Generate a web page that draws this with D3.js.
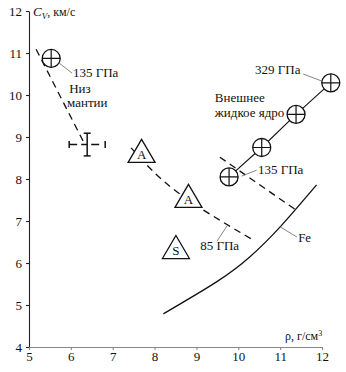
<!DOCTYPE html>
<html>
<head>
<meta charset="utf-8">
<script src="https://cdn.jsdelivr.net/npm/d3@7/dist/d3.min.js"></script>
<style>
  html, body { margin: 0; padding: 0; background: #fff; }
  svg { display: block; }
</style>
</head>
<body>
<svg id="chart" width="346" height="372"></svg>
<script>
// Axis ticks
const xTicks = [5, 6, 7, 8, 9, 10, 11, 12];
const yTicks = [4, 5, 6, 7, 8, 9, 10, 11, 12];

// Lower mantle: PREM point and trend, plus a sample with error bars
const mantlePoint = [5.53, 10.87];
const mantleTrend = [[5.17, 11.09], [6.30, 8.89]];
const errorPoint = { x: 6.39, y: 8.82, dx: 0.43, dy: 0.27 };

// Outer liquid core points (135 -> 329 GPa)
const corePoints = [[9.78, 8.05], [10.56, 8.75], [11.38, 9.54], [12.21, 10.29]];
const coreIsobar = [[9.56, 8.52], [11.38, 7.26]];

// Triangle samples and the 85 GPa trend through them
const triangles = [
  { x: 7.69, y: 8.67, label: "A" },
  { x: 8.81, y: 7.60, label: "A" },
  { x: 8.51, y: 6.38, label: "S" }
];
const trend85 = [[7.44, 8.74], [8.54, 7.69], [10.35, 6.55]];

// Fe curve
const feCurve = [[8.21, 4.79], [9.48, 5.55], [10.28, 6.15], [11.0, 6.86], [11.87, 7.86]];

// Labels and their leader lines (data units)
const labels = [
  { x: 6.05, y: 10.42, text: "135 ГПа" },
  { x: 5.96, y: 10.05, text: "Низ" },
  { x: 5.91, y: 9.71, text: "мантии" },
  { x: 10.40, y: 10.49, text: "329 ГПа" },
  { x: 9.44, y: 9.84, text: "Внешнее" },
  { x: 9.44, y: 9.48, text: "жидкое ядро" },
  { x: 10.47, y: 8.11, text: "135 ГПа" },
  { x: 9.09, y: 6.32, text: "85 ГПа" },
  { x: 11.43, y: 6.51, text: "Fe" }
];
const leaders = [
  [[5.72, 10.76], [6.03, 10.52]],
  [[11.55, 10.50], [12.0, 10.33]],
  [[10.08, 8.07], [10.44, 8.21]],
  [[9.49, 6.52], [9.73, 6.88]],
  [[11.0, 6.86], [11.40, 6.62]]
];

const FONT = '"Liberation Serif", "Times New Roman", serif';
const svg = d3.select("#chart");
const x = d3.scaleLinear().domain([5, 12]).range([29, 322]);
const y = d3.scaleLinear().domain([4, 12]).range([347, 11]);

// Axes
const yAxis = svg.append("g")
  .attr("transform", `translate(${x(5)},0)`)
  .call(d3.axisLeft(y).tickValues(yTicks).tickFormat(d3.format("d"))
    .tickSize(3).tickSizeOuter(0).tickPadding(4));
yAxis.selectAll("path,line").attr("stroke", "#222").attr("stroke-width", 1.1);
yAxis.selectAll("text").style("font-family", FONT).style("font-size", "13px").attr("fill", "#111");

const xAxis = svg.append("g")
  .attr("transform", `translate(0,${y(4)})`)
  .call(d3.axisBottom(x).tickValues(xTicks).tickFormat(d3.format("d"))
    .tickSize(3).tickSizeOuter(0).tickPadding(2));
xAxis.selectAll("path,line").attr("stroke", "#888").attr("stroke-width", 1.1);
xAxis.selectAll("text").style("font-family", FONT).style("font-size", "13px").attr("fill", "#111");

// Axis titles
const yTitle = svg.append("text").attr("x", 33).attr("y", 16)
  .style("font-family", FONT).style("font-size", "13px").attr("fill", "#111");
yTitle.append("tspan").attr("font-style", "italic").text("C");
yTitle.append("tspan").attr("font-style", "italic").style("font-size", "9px").attr("dy", 3).text("V");
yTitle.append("tspan").attr("dy", -3).style("font-size", "12px").text(", км/с");

const xTitle = svg.append("text").attr("x", 285).attr("y", 340)
  .style("font-family", FONT).style("font-size", "12px").attr("fill", "#111");
xTitle.append("tspan").text("ρ, г/см");
xTitle.append("tspan").style("font-size", "8px").attr("dy", -4).text("3");

const line = d3.line().x(d => x(d[0])).y(d => y(d[1]));

// Fe curve
svg.append("path").datum(feCurve)
  .attr("d", line.curve(d3.curveNatural))
  .attr("fill", "none").attr("stroke", "#111").attr("stroke-width", 1.3);

// Dashed trends
const dashed = (data, curve) => svg.append("path").datum(data)
  .attr("d", d3.line().x(d => x(d[0])).y(d => y(d[1])).curve(curve))
  .attr("fill", "none").attr("stroke", "#111").attr("stroke-width", 1.3)
  .attr("stroke-dasharray", "7,5");
dashed(mantleTrend, d3.curveLinear);
dashed(coreIsobar, d3.curveLinear);
dashed(trend85, d3.curveNatural);

// Core line
svg.append("path").datum(corePoints)
  .attr("d", d3.line().x(d => x(d[0])).y(d => y(d[1])))
  .attr("fill", "none").attr("stroke", "#111").attr("stroke-width", 1.1);

// Leader lines
svg.append("g").selectAll("line").data(leaders).join("line")
  .attr("x1", d => x(d[0][0])).attr("y1", d => y(d[0][1]))
  .attr("x2", d => x(d[1][0])).attr("y2", d => y(d[1][1]))
  .attr("stroke", "#666").attr("stroke-width", 0.8);

// Error-bar sample
const eb = svg.append("g").attr("stroke", "#111").attr("stroke-width", 1.5);
eb.append("line")
  .attr("x1", x(errorPoint.x - errorPoint.dx)).attr("x2", x(errorPoint.x + errorPoint.dx))
  .attr("y1", y(errorPoint.y)).attr("y2", y(errorPoint.y))
  .attr("stroke-dasharray", "8,4,6,4,8");
eb.append("line")
  .attr("x1", x(errorPoint.x)).attr("x2", x(errorPoint.x))
  .attr("y1", y(errorPoint.y - errorPoint.dy)).attr("y2", y(errorPoint.y + errorPoint.dy));
[errorPoint.x - errorPoint.dx, errorPoint.x + errorPoint.dx].forEach(v => {
  eb.append("line").attr("x1", x(v)).attr("x2", x(v))
    .attr("y1", y(errorPoint.y) - 3.5).attr("y2", y(errorPoint.y) + 3.5);
});
[errorPoint.y - errorPoint.dy, errorPoint.y + errorPoint.dy].forEach(v => {
  eb.append("line").attr("y1", y(v)).attr("y2", y(v))
    .attr("x1", x(errorPoint.x) - 3.5).attr("x2", x(errorPoint.x) + 3.5);
});

// Circle-plus markers
const r = 9;
const crossMarks = svg.append("g").selectAll("g")
  .data([mantlePoint, ...corePoints]).join("g")
  .attr("transform", d => `translate(${x(d[0])},${y(d[1])})`);
crossMarks.append("circle").attr("r", r)
  .attr("fill", "#fff").attr("stroke", "#111").attr("stroke-width", 1.3);
crossMarks.append("path").attr("d", `M${-r},0H${r}M0,${-r}V${r}`)
  .attr("stroke", "#111").attr("stroke-width", 1.2);

// Triangle samples
const tw = 13.5, th = 23;
const tri = svg.append("g").selectAll("g").data(triangles).join("g")
  .attr("transform", d => `translate(${x(d.x)},${y(d.y)})`);
tri.append("path").attr("d", `M0,${-th / 2}L${tw},${th / 2}L${-tw},${th / 2}Z`)
  .attr("fill", "#fff").attr("stroke", "#111").attr("stroke-width", 1.3);
tri.append("text").attr("y", 8).attr("text-anchor", "middle")
  .style("font-family", FONT).style("font-size", "13px").attr("fill", "#111")
  .text(d => d.label);

// Text labels
svg.append("g").selectAll("text").data(labels).join("text")
  .attr("x", d => x(d.x)).attr("y", d => y(d.y))
  .style("font-family", FONT).style("font-size", "13px").attr("fill", "#111")
  .text(d => d.text);
</script>
</body>
</html>
